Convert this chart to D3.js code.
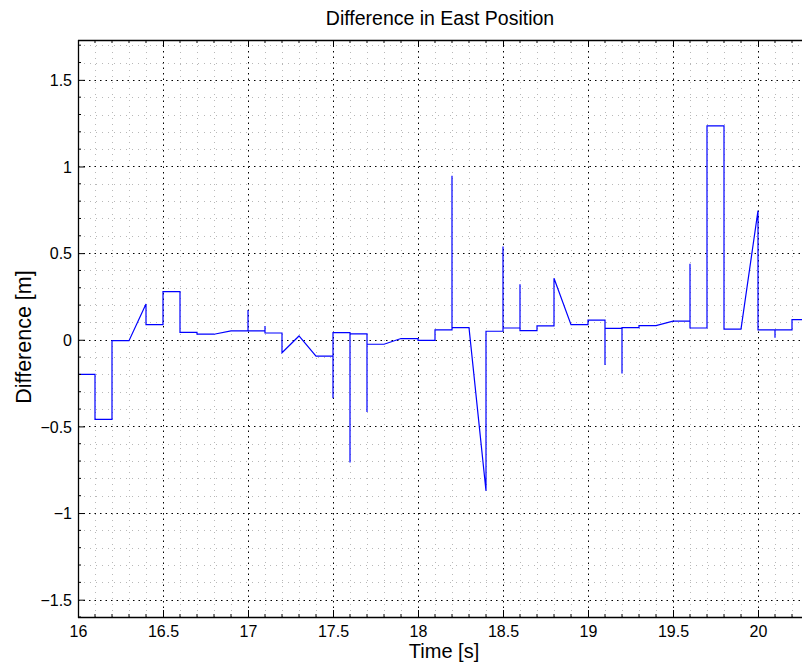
<!DOCTYPE html>
<html>
<head>
<meta charset="utf-8">
<script src="https://cdn.jsdelivr.net/npm/d3@7"></script>
<style>
  html, body { margin: 0; padding: 0; background: #fff; }
  svg { display: block; }
  text { font-family: "Liberation Sans", Arial, Helvetica, sans-serif; fill: #000; }
</style>
</head>
<body>
<svg id="chart" width="802" height="667"></svg>
<script>
// Sample times [s] of the east-position difference trace (repeated times give the vertical steps and spikes)
const times = [
  16.0, 16.1, 16.1, 16.2, 16.2, 16.3, 16.4, 16.4, 16.5, 16.5,
  16.6, 16.6, 16.7, 16.7, 16.8, 16.9, 17.0, 17.0, 17.0, 17.1,
  17.1, 17.1, 17.2, 17.2, 17.3, 17.4, 17.5, 17.5, 17.5, 17.6,
  17.6, 17.6, 17.7, 17.7, 17.7, 17.8, 17.9, 18.0, 18.0, 18.1,
  18.1, 18.2, 18.2, 18.2, 18.3, 18.4, 18.4, 18.5, 18.5, 18.5,
  18.6, 18.6, 18.6, 18.7, 18.7, 18.8, 18.8, 18.9, 19.0, 19.0,
  19.1, 19.1, 19.1, 19.2, 19.2, 19.2, 19.3, 19.3, 19.4, 19.5,
  19.6, 19.6, 19.6, 19.7, 19.7, 19.8, 19.8, 19.9, 20.0, 20.0,
  20.1, 20.1, 20.1, 20.2, 20.2, 20.3
];
// Difference in east position [m] at each sample time
const diffs = [
  -0.200, -0.200, -0.460, -0.460, -0.005, -0.005, 0.207, 0.087, 0.087, 0.278,
  0.278, 0.043, 0.043, 0.032, 0.032, 0.051, 0.051, 0.172, 0.051, 0.051,
  0.080, 0.039, 0.039, -0.075, 0.022, -0.094, -0.094, -0.338, 0.041, 0.041,
  -0.708, 0.034, 0.034, -0.417, -0.026, -0.026, 0.007, 0.007, -0.003, -0.003,
  0.057, 0.057, 0.947, 0.070, 0.070, -0.872, 0.049, 0.049, 0.538, 0.068,
  0.068, 0.321, 0.053, 0.053, 0.080, 0.080, 0.355, 0.087, 0.087, 0.113,
  0.113, -0.146, 0.066, 0.066, -0.194, 0.070, 0.070, 0.082, 0.082, 0.107,
  0.107, 0.438, 0.068, 0.068, 1.234, 1.234, 0.061, 0.061, 0.745, 0.057,
  0.057, 0.012, 0.057, 0.057, 0.116, 0.116
];
const xTicks = [16, 16.5, 17, 17.5, 18, 18.5, 19, 19.5, 20];
const xTickLabels = ["16", "16.5", "17", "17.5", "18", "18.5", "19", "19.5", "20"];
const yTicks = [-1.5, -1, -0.5, 0, 0.5, 1, 1.5];
const yTickLabels = ["\u22121.5", "\u22121", "\u22120.5", "0", "0.5", "1", "1.5"];
const xLimits = [16, 20.5];
const yLimits = [-1.6, 1.73];

const svg = d3.select("#chart");
const plotL = 78, plotT = 40, plotB = 617, plotR = 843;

const x = d3.scaleLinear().domain(xLimits).range([plotL, plotR]);
const y = d3.scaleLinear().domain(yLimits).range([plotB, plotT]);

svg.append("defs").append("clipPath").attr("id", "plotArea")
  .append("rect").attr("x", plotL).attr("y", plotT)
  .attr("width", plotR - plotL).attr("height", plotB - plotT);

const grid = svg.append("g").attr("clip-path", "url(#plotArea)");

// minor grid every 0.1 in both directions
const xMinor = d3.range(16.1, 20.5, 0.1).map(v => +v.toFixed(1)).filter(v => !xTicks.includes(v));
const yMinor = d3.range(-1.6, 1.75, 0.1).map(v => +v.toFixed(1)).filter(v => !yTicks.includes(v));

grid.selectAll(".xminor").data(xMinor).join("line")
  .attr("x1", d => Math.round(x(d)) + 0.5).attr("x2", d => Math.round(x(d)) + 0.5)
  .attr("y1", plotT).attr("y2", plotB)
  .attr("stroke", "#b8b8b8").attr("stroke-width", 1).attr("stroke-dasharray", "1,5");
grid.selectAll(".yminor").data(yMinor).join("line")
  .attr("y1", d => Math.round(y(d)) + 0.5).attr("y2", d => Math.round(y(d)) + 0.5)
  .attr("x1", plotL).attr("x2", plotR)
  .attr("stroke", "#b8b8b8").attr("stroke-width", 1).attr("stroke-dasharray", "1,5");

// major grid
grid.selectAll(".xmajor").data(xTicks.slice(1)).join("line")
  .attr("x1", d => Math.round(x(d)) + 0.5).attr("x2", d => Math.round(x(d)) + 0.5)
  .attr("y1", plotT).attr("y2", plotB)
  .attr("stroke", "#000").attr("stroke-width", 1).attr("stroke-dasharray", "1.5,4");
grid.selectAll(".ymajor").data(yTicks).join("line")
  .attr("y1", d => Math.round(y(d)) + 0.5).attr("y2", d => Math.round(y(d)) + 0.5)
  .attr("x1", plotL).attr("x2", plotR)
  .attr("stroke", "#000").attr("stroke-width", 1).attr("stroke-dasharray", "1.5,4");

// data trace
const pts = times.map((t, i) => [t, diffs[i]]);
const line = d3.line().x(d => x(d[0])).y(d => y(d[1]));
svg.append("path").attr("clip-path", "url(#plotArea)")
  .attr("d", line(pts)).attr("fill", "none")
  .attr("stroke", "#0000ff").attr("stroke-width", 1.2).attr("stroke-linejoin", "miter");

// axes: ticks pointing inward, box on top
const axes = svg.append("g");
const bx = d3.axisBottom(x).tickValues(xTicks).tickFormat((d, i) => xTickLabels[i]).tickSizeInner(-7).tickSizeOuter(0).tickPadding(9);
axes.append("g").attr("transform", `translate(0,${plotB})`).call(bx);
const ly = d3.axisLeft(y).tickValues(yTicks).tickFormat((d, i) => yTickLabels[i]).tickSizeInner(-7).tickSizeOuter(0).tickPadding(14);
const gl = axes.append("g").attr("transform", `translate(${plotL},0)`).call(ly);
const tx = d3.axisTop(x).tickValues(xTicks).tickFormat("").tickSizeInner(-7).tickSizeOuter(0);
axes.append("g").attr("transform", `translate(0,${plotT})`).call(tx);

// minor ticks on the box
const mt = axes.append("g").attr("stroke", "#000").attr("stroke-width", 1);
mt.selectAll(".mb").data(xMinor).join("line")
  .attr("x1", d => x(d)).attr("x2", d => x(d)).attr("y1", plotB).attr("y2", plotB - 3);
mt.selectAll(".mt").data(xMinor).join("line")
  .attr("x1", d => x(d)).attr("x2", d => x(d)).attr("y1", plotT).attr("y2", plotT + 3);
mt.selectAll(".ml").data(yMinor).join("line")
  .attr("y1", d => y(d)).attr("y2", d => y(d)).attr("x1", plotL).attr("x2", plotL + 3);

axes.selectAll(".domain").remove();
axes.append("line").attr("x1", plotL).attr("x2", 802).attr("y1", plotB + 0.5).attr("y2", plotB + 0.5)
  .attr("stroke", "#000").attr("stroke-width", 1.3);
axes.append("line").attr("x1", plotL).attr("x2", 802).attr("y1", plotT + 0.5).attr("y2", plotT + 0.5)
  .attr("stroke", "#000").attr("stroke-width", 1.3);
axes.append("line").attr("x1", plotL + 0.5).attr("x2", plotL + 0.5).attr("y1", plotT).attr("y2", plotB + 1)
  .attr("stroke", "#000").attr("stroke-width", 1.3);

axes.selectAll(".tick line").attr("stroke", "#000");
axes.selectAll(".tick text").attr("font-size", 16).attr("font-family", "Liberation Sans, Arial, sans-serif").attr("fill", "#000");
gl.selectAll(".tick text").attr("dx", 8).attr("dy", "0.36em");

// title and axis labels
svg.append("text").attr("x", 440).attr("y", 25).attr("text-anchor", "middle")
  .attr("font-size", 19.5).text("Difference in East Position");
svg.append("text").attr("x", 444).attr("y", 658).attr("text-anchor", "middle")
  .attr("font-size", 20).text("Time [s]");
svg.append("text").attr("transform", "translate(31,337) rotate(-90)").attr("text-anchor", "middle")
  .attr("font-size", 21.5).text("Difference [m]");
</script>
</body>
</html>
